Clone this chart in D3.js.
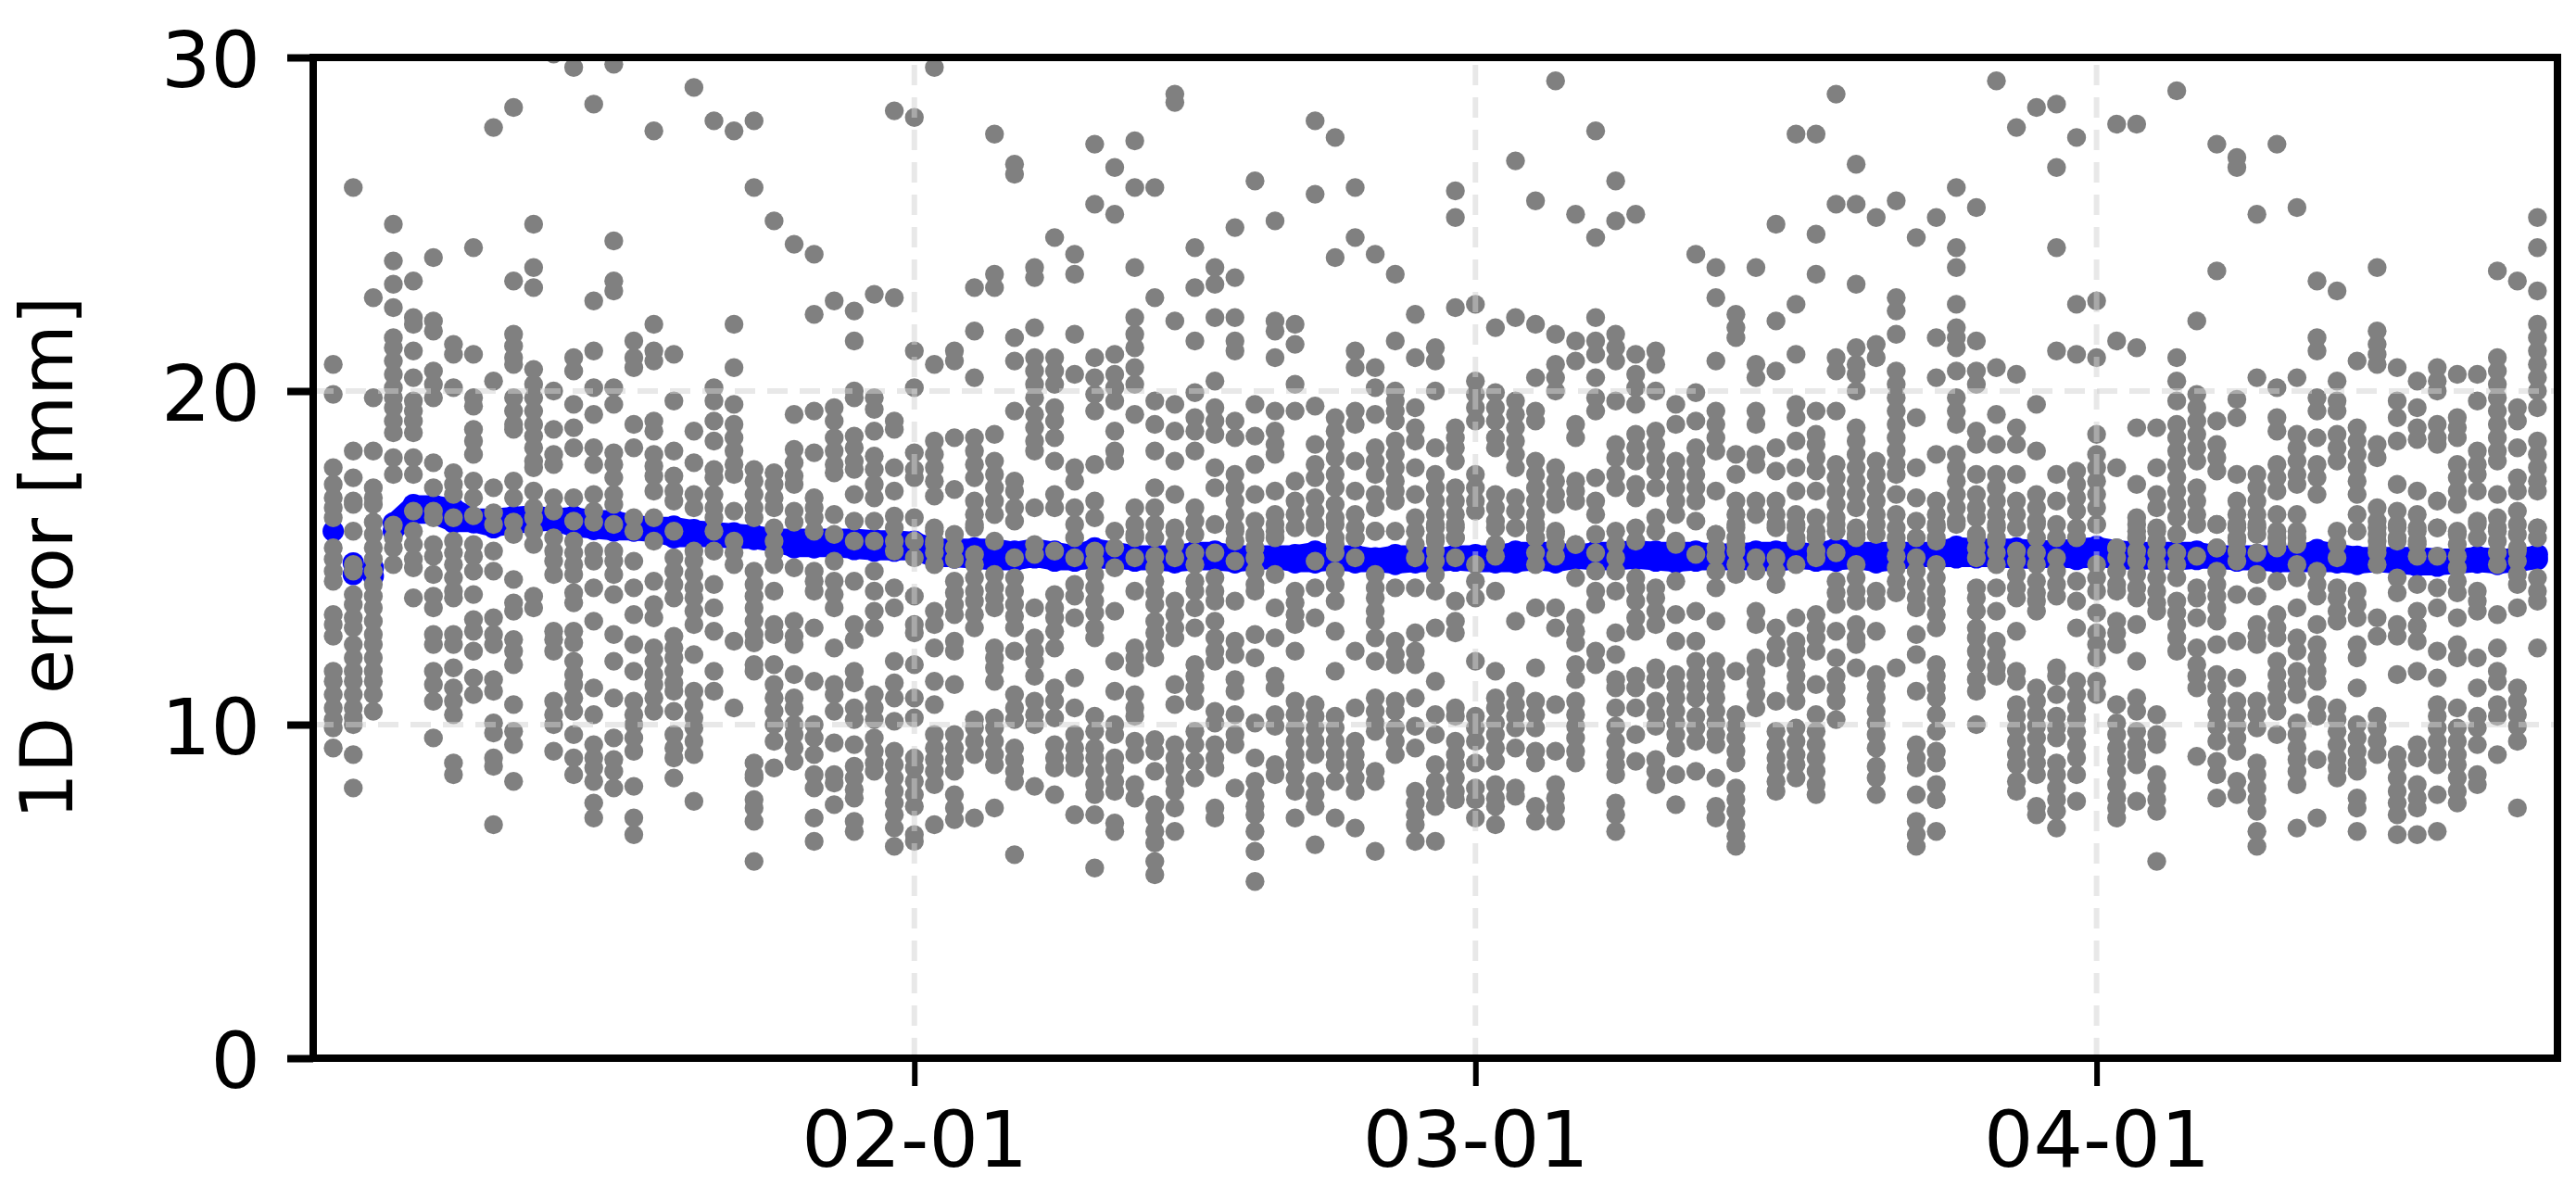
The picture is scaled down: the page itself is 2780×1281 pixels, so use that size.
<!DOCTYPE html>
<html>
<head>
<meta charset="utf-8">
<script src="https://cdn.jsdelivr.net/npm/d3@7"></script>
<style>
html,body{margin:0;padding:0;background:#fff;}
svg{display:block;filter:blur(0.7px);}
text{font-family:"DejaVu Sans",sans-serif;fill:#000;}
</style>
</head>
<body>
<svg id="chart" width="2780" height="1281"></svg>
<script>
const firstDay = "2021-01-03";
const xDomain = ["2021-01-02", "2021-04-24"];
const xTickDates = ["2021-02-01", "2021-03-01", "2021-04-01"];
const yTicks = [0, 10, 20, 30];
const yLabel = "1D error [mm]";

// one list per day: the grey single-epoch errors (mm)
const dailyErrors = [
[20.8,19.9,17.7,17.2,16.8,16.5,16.2,15.3,14.96,14.6,14.3,13.3,13,12.65,11.6,11.3,10.9,10.5,10.15,9.9,9.3],
[26.1,18.2,17.4,16.7,16.6,15.8,14.8,14.6,13.9,13.6,13.2,12.9,12.4,12,11.6,11.3,10.9,10.5,10.2,10,9.1,8.1],
[22.8,19.8,18.2,17.1,16.8,16.6,16.07,15.7,15.3,14.96,14.6,14.2,13.85,13.5,13.1,12.7,12.4,12,11.6,11.3,10.9,10.4],
[25,23.9,23.2,22.5,21.6,21.3,20.9,20.5,20.1,19.8,19.5,19.1,18.75,18,17.5,15.98,15.6,15.3,14.8],
[23.3,22.2,22,21.2,20.4,19.7,19.4,19.1,18.75,18,17.5,16.4,15.8,15.4,14.96,14.7,13.8],
[24,22.1,21.8,20.6,20.2,19.8,17.85,17.1,16.4,16.2,15.4,15.05,14.5,13.85,13.5,12.7,12.4,11.6,11.2,10.7,9.6],
[21.4,21.1,20.1,17.55,17.2,16.9,16.2,15.5,15.15,14.8,14.4,14,13.8,12.7,12.4,11.7,11.1,10.7,10.3,8.85,8.5],
[24.3,21.1,19.8,19.55,18.85,18.5,18.1,17.3,16.8,16.26,15.4,15.05,14.6,13.9,13.15,12.8,12.2,11.4,10.9],
[27.9,20.3,17.1,16.35,16,15.2,14.6,13.2,12.7,12.4,11.35,11,10.05,9.75,9,8.75,7],
[28.5,23.3,21.7,21.35,21,20.8,19.8,19.4,19,18.85,17.3,16.8,16.07,15.7,14.35,13.65,13.4,12.55,12.2,11.8,10.6,9.8,9.4,8.3],
[25,23.7,23.1,20.65,20.2,19.8,19.4,19,18.65,18.3,17.9,17.7,17,16.5,16.2,15.8,15.4,13.85,13.5],
[30.1,20,18.85,18.1,17.8,16.8,16.4,15.6,15.2,14.9,14.5,12.8,12.55,12.2,10.7,10.3,10,9.2],
[29.7,21,20.6,19.6,18.9,18.3,16.8,16.1,15.5,15.15,14.8,14.5,13.95,13.65,12.8,12.45,11.9,11.5,11.2,10.8,10.4,9.7,9,8.5],
[28.6,22.7,21.2,20.1,19.3,18.3,17.8,16.9,16.4,16.07,15.2,14.9,14.1,13.1,11.1,10.3,9.4,9,8.7,8.3,7.65,7.2],
[29.8,24.5,23.3,23,20.1,19.6,18.15,17.8,17.4,16.9,16.6,16,15.2,14.9,14.5,13.9,12.7,11.9,10.8,9.6,8.95,8.6,8.1],
[21.5,21,20.7,19,18.3,16.2,15.8,14.9,14.1,13.3,12.4,11.6,10.7,10.3,10,9.6,9.2,8.15,7.2,6.7],
[27.8,22,21.2,20.9,19.1,18.8,18.1,17.75,17.45,17,16.2,15.5,14.3,13.6,13.2,12.3,11.9,11.5,11.2,10.8,10.4],
[21.1,19.7,18.2,17.45,17,16.7,15.8,15,14.6,14.2,13.8,12.65,12.3,12,11.6,11.25,11,10.4,9.7,9.3,9,8.4],
[29.1,18.8,17.85,16.9,16.5,15.2,14.9,14.5,14.1,13.8,13.4,13,12.1,11,10.6,10.2,9.9,9.5,9.1,7.7],
[28.1,20.1,19.7,19.1,18.5,17.65,17.4,16.9,16.5,16.2,15.8,15.2,14.2,13.5,12.8,11.6,11],
[27.8,22,20.7,19.6,19,18.6,18.2,17.8,17.5,16.4,15.5,15.15,14.8,12.5,10.5],
[28.1,26.1,17.65,17.3,16.9,16.5,16.2,14.6,14.2,13.85,13.5,13.1,12.7,12.45,11.8,11.6,8.85,8.5,8.4,7.75,7.5,7.1,5.9],
[25.1,17.55,17.2,16.8,16.5,15.9,15.5,15.15,14.8,14,13,12.7,11.8,11.2,10.8,10.4,10,9.5,8.7],
[24.4,19.3,18.25,17.85,17.45,17.2,16.4,16.07,14.7,13.1,12.65,12.4,11.5,10.8,10.5,10,9.7,9.3,8.9],
[24.1,22.3,19.4,18.15,16.8,16.5,16.2,15.8,14.6,14.3,14,12.9,11.3,10,9.6,9.1,8.5,8.1,7.2,6.5],
[22.7,19.5,19.1,18.6,18.2,17.8,17.55,16.3,15.7,14.9,14.3,13.9,13.5,12.3,11.2,10.9,10.4,9.45,8.5,8.25,7.6],
[22.4,21.5,20,19.8,18.65,18.3,17.9,17.65,16.9,16.1,15.5,14.3,13,12.55,11.6,11.25,10.5,10.15,9.4,8.75,8.4,8.05,7.8,7.1,6.8],
[22.9,19.8,19.45,18.8,18.05,17.65,17.2,16.8,16.1,15.5,14.6,14,13.4,12.9,10.9,10.5,10.15,9.6,9.2,8.85,8.6],
[28.4,22.8,19.1,18.85,17.7,17,16.25,15.9,15.5,15.2,14.1,13.5,11.9,11.25,10.8,10.1,9.2,8.8,8.4,8,7.65,7.3,6.9,6.35],
[28.2,21.2,20.1,18.15,17.65,17.4,16.2,15.5,15,13.85,13,12.75,11.8,10.8,10.2,9,8.7,8.3,7.9,7.55,6.7,6.5],
[29.7,20.8,18.5,18.1,17.7,17.3,16.85,15.8,15.4,15.9,15.5,15.15,14.8,13.4,13,12.3,11.3,10.6,9.7,9.3,8.95,8.6,8.2,7],
[21.2,20.9,18.6,17.05,15.7,15.3,14.95,14.3,13.95,13.6,13.3,12.5,12.2,11.2,9.7,9.3,8.95,8.6,7.9,7.5,7.15],
[23.1,21.8,20.4,18.6,18.2,17.8,17.4,16.7,16.3,15.9,16,15.1,14.8,14.4,14,13.7,13.3,12.9,10.15,9.9,9.5,9.1,7.2],
[27.7,23.5,23.1,18.7,17.9,17.5,17.1,16.7,16.3,15.5,14.5,14.1,13.8,13.5,12.3,12,11.7,11.3,10.2,9.9,9.5,9.1,8.8,7.5],
[26.8,26.5,21.6,20.9,19.4,17.3,17,16.5,16.1,15,14.4,14,13.6,13.25,12.9,12.2,10.9,10.5,10.15,9.3,8.95,8.6,8.3,6.1],
[23.7,23.4,21.9,21,20.6,20.2,19.8,19.3,18.9,18.5,18.2,16.5,15.4,15.1,13.5,12.6,12.2,11.9,11.45,10.7,10.3,10,8.15],
[24.6,21,20.6,20.2,19.5,19.1,18.6,17.9,16.9,16.5,15.2,13.9,13.5,13.2,12.8,12.3,11.1,10.7,10.2,9.4,9,8.7,7.9],
[24.1,23.5,21.7,20.5,17.7,17.3,16.5,16,15.6,15,14.2,13.85,13.2,11.4,10.5,9.7,9.3,9,8.7,7.3],
[27.4,25.6,21,20.4,19.9,19.4,17.8,16.7,16.2,15.2,14.9,14.5,14.1,13.7,13.35,12.9,12.6,10.25,9.8,9.3,9,8.6,8.2,7.9,7.3,5.7],
[26.7,25.3,21.1,20.5,20.1,19.7,18.8,18.2,17.9,15.8,15.3,14.7,13.4,11.9,11,10,9.7,9,8.7,8.3,8,7.05,6.8],
[27.5,26.1,23.7,22.2,21.7,21.3,20.7,20.2,19.3,16.5,16,15.6,15.7,15,14,12.3,12,11.7,10.9,10.5,10.25,9.5,9.1,8.2,7.8],
[26.1,22.8,19.7,19,18.2,17.1,16.5,16,15.6,15.05,14.7,14.3,13.95,13.6,13.1,12.75,12.4,12,9.55,9.2,8.6,7.6,7.2,6.8,6.45,5.9,5.5],
[28.9,28.65,22.1,19.6,18.8,17.9,16.9,15.9,15.4,15.8,15,13.7,13.3,12.9,12.6,11.2,10.6,9.4,9,8.7,8.3,8,7.5,6.8],
[24.3,23.1,21.5,19.95,19.2,18.8,18.2,16.5,16.1,15.7,15.15,14.8,14.3,14,13.5,12.9,11.8,11.45,11.1,10.7,9.8,9.4,8.9,8.4],
[23.7,23.2,22.2,20.3,19.5,19.1,18.7,17.7,17.1,16,15.15,14.4,14,13.7,13.1,12.6,12.2,11.9,10.4,10.05,9.4,9,8.7,7.5,7.2],
[24.9,23.4,22.2,21.5,21.2,19.1,18.6,17.5,17.1,16.7,16.3,15.8,15.9,15.5,14.9,13.7,12.5,12.1,11.35,11,10.3,9.7,9.4,8.1],
[26.3,19.6,18.65,17.8,16.9,16.1,15.6,15.7,15.3,15,14.6,14.2,14,12.7,12,10.05,9,8.3,7.9,7.55,7.3,6.8,6.2,5.3],
[25.1,22.1,21.8,21,19.4,18.8,18.4,18.1,17,16.3,15.8,16,15.6,14.5,13.5,12.6,11.45,11.1,10.3,9.95,8.8,8.5],
[22,21.4,20.2,19.4,17.3,16.7,16.3,15.9,14,13.65,13.3,13,12.2,10.7,10.3,9.9,9.5,9.1,8.8,8.4,8,7.2],
[28.1,25.9,19.55,18.4,17.8,17.4,16.8,16.4,16,15.9,14.9,14.1,13.2,10.6,10.25,9.9,9.5,9.1,8.3,7.9,7.55,6.4],
[27.6,24,19.2,18.8,18.4,18,17.5,17.1,16.6,16.2,15.4,16,15.6,15.15,14.6,14.2,13.7,12.8,11.6,10.25,9.9,9.5,9.1,8.8,8.3,7.2],
[26.1,24.6,21.2,20.7,19.4,19,17.9,17,16.3,15.6,15.9,15.6,15,12.2,10.5,9.5,9.1,8.8,8.4,8,6.9],
[24.1,20.7,20.1,19.3,18.3,17.9,17.5,16.9,16.5,15.8,15.8,14.5,14.1,13.8,13.4,13.1,12.6,11.9,10.8,10.4,10.05,9.8,8.6,8.3,6.2],
[23.5,21.5,20,19.7,19.4,19.1,18.5,18.1,17.7,17.3,17,16.7,15.8,14.1,12.5,12.1,11.8,10.7,10.4,9.9,9.5,9.1],
[22.3,21,19.5,18.9,18.5,17.7,16.9,16.2,15.8,15.4,15,14.1,12.75,12.2,11.8,10.8,9.95,9.3,8,7.65,7.3,7,6.5],
[21.3,20.9,20,18.3,17.5,17.1,16.7,16.3,15.9,15.5,16,15.6,15.2,14.9,14.5,14,12.9,11.3,10.3,9.7,8.8,8.3,7.9,7.55,6.5],
[26,25.2,22.5,18.9,18.6,18.3,17.9,17.1,16.7,16.3,15.9,15.6,16,15.6,15,13.7,13.1,12.75,10.5,10.25,9.5,9.1,8.8,8.4,8,7.75],
[22.6,20.3,19.9,19.5,19.1,17.5,17.1,16.7,16.4,14.8,14.3,13.8,11.9,10.25,9.9,9.5,8.85,8.1,7.75,7.2],
[21.9,19.95,19.5,19.1,18.6,18.3,16.9,16.5,16.1,15.4,15.9,15.4,15.05,14,11.6,10.8,10.5,10.05,9.7,9.3,8.9,8.2,7.8,7.55,7],
[26.9,22.2,19.7,19.3,18.9,18.5,18.1,17.7,16.8,16.4,15.9,15.9,13.1,11,10.6,10.25,9.9,9.3,8.1,7.85],
[25.7,22,20.4,19.4,19.1,17.9,17.5,17.1,16.7,16.3,15.9,15.6,16,15.6,15.15,14.8,13.5,11.7,10.7,10.3,9.9,9.2,8.85,7.55,7.1],
[29.3,21.7,20.8,20.4,20,17.7,17.3,16.9,16.6,15.7,15.8,15.4,15.05,13.5,12.9,10.6,9.2,8.2,7.8,7.5,7.1],
[25.3,21.5,20.9,19,18.6,17.3,17,16.7,15.4,15.4,14.4,13.2,12.8,12.45,11.8,11.35,10.7,10.3,9.95,9.6,9.2,8.85],
[27.8,24.6,22.2,21.5,21.1,20.4,19.8,19.4,17.4,16.7,16.3,15.7,15.15,14.6,14,13.6,12.2,11.8],
[26.3,25.1,21.7,21.3,20.9,19.7,18.4,18,17.5,17.1,15.8,15.4,15,14.6,14,12.75,12.1,11.35,11.1,10.5,9.95,9.5,9.1,8.8,8.5,7.65,7.3,6.8],
[25.3,21.1,20.5,20.1,19.6,18.7,18.3,17.9,17.2,16.8,15.9,15.5,14.4,14.1,13.7,13.2,12.8,11.45,11.1,10.5,9.7,8.9],
[21.2,20.8,20,18.8,18.4,18,17.6,17.1,16.2,15.8,14.1,13.8,13.4,13,11.7,11.35,10.7,10.3,9.95,8.95,8.6,8.2],
[19.6,19,17.9,17.5,17.1,16.7,16.3,15.4,15.5,14.3,13.3,12.5,11.5,11.15,10.8,10.4,10.05,9.7,9.3,8.5,7.6],
[24.1,19.95,19.1,18.3,17.9,17.5,17.1,16.7,16.1,15.1,13.4,12.5,11.9,11.5,11.15,10.8,10.25,9.9,9.5,8.6],
[23.7,22.8,20.9,19.4,19,18.6,18.2,17,15.7,15.7,15.3,15.05,14.6,14.1,13.1,11.9,11.5,11.15,10.8,10.4,10.05,9.7,9.4,8.4,7.55,7.2],
[22.3,21.9,21.6,18.1,17.5,16.7,16.3,15.9,15.4,16,15.6,15.2,14.8,14.5,11.6,10.3,9.95,9.6,9.2,8.85,8.1,7.75,7.4,7,6.65,6.35],
[23.7,20.8,20.4,19.4,19,18.1,17.8,16.7,16.3,15,14.6,13.4,13,12,11.6,11.25,10.9,10.5],
[25,22.1,20.6,18.3,17.6,16.7,16.3,15.9,16,15,14.6,14.2,12.9,12.4,12,10.7,9.8,9.4,9,8.7,8.3,8],
[27.7,22.6,21.1,19.6,19.2,18.5,17.7,17,16.3,15.9,15.5,16,15.6,14.8,13.2,12.5,12.2,11.8,11.45,11.1,10.7,9.9,9.5,9.1,8.8,8.4],
[27.7,24.7,23.5,19.4,18.7,18.4,18,17.6,17,16.2,15.8,15.6,15.2,15,13.3,12.9,12.6,12.2,11.2,10.3,9.8,9.4,9,8.6,8.2,7.9],
[28.9,25.6,21,20.6,19.4,17.8,17.4,17,16.6,16.2,15.8,16,15.15,14.3,13.95,13.6,12.8,12,11.45,11.1,10.7,10.15],
[26.8,25.6,23.2,21.3,20.8,20.5,20,18.9,18.5,18.1,17.7,17.3,16.9,16.5,15.7,15.9,15.6,14.8,14.4,14,13.7,13,12.6,12.4,11.7],
[25.2,21.4,21,17.9,17.5,17.1,16.7,16.3,15.7,16,14,13.7,12.8,11.5,11.15,10.8,10.4,10.05,9.7,9.3,8.75,8.4,7.9],
[25.7,22.8,22.4,21.7,20.6,20.2,19.8,19.4,19,18.6,18.2,17.8,17.5,16.9,16.3,15.6,15.9,15.4,15.05,14.7,14.3,13.95,11.7],
[24.6,19.2,17.7,16.8,16.1,15.6,15,14.6,14.2,13.8,13.5,12.7,12.1,11,9.4,9,8.7,7.9,7.1,6.7,6.35],
[25.2,21.6,20.4,18.1,16.7,16.3,15.9,15.5,16,15.6,14.8,14.4,14,13.7,13.3,12.9,11.8,11.45,11.1,10.8,10.3,9.8,9.2,8.85,8.2,7.75,6.8],
[26.1,24.3,23.7,22.6,21.9,21.6,21.3,20.6,19.8,19.4,19,18.1,17.7,17.3,16.9,16.5,16.1,16],
[25.5,21.5,20.6,20.2,18.8,18.4,17.5,16.9,16.5,16.2,15.6,15.7,15.3,15,14.1,13.8,13.4,12.9,12.6,12.2,11.8,11.35,11,10],
[29.3,20.7,19.3,18.4,17.5,17.1,16.7,16.3,15.9,15.5,16,15.6,15.15,14.8,14.1,13.4,12.5,12.1,11.7,11.45],
[27.9,20.5,18.9,18.4,17.5,16.7,16.3,15.9,15.2,14.9,14.5,14.1,13.8,12.8,11.6,11.3,10.6,10.25,9.9,9.5,9.1,8.8,8.3,8],
[28.5,19.6,18.2,16.9,16.5,16.1,16,15.6,15.15,14.8,14.3,13.95,13.7,13.4,11.1,10.7,10.3,9.95,9.6,9.2,8.85,8.5,7.55,7.3],
[28.6,26.7,24.3,21.2,17.5,16.7,16,15.6,15,14.6,14.2,13.85,11.7,11.45,10.9,10.25,9.9,9.6,8.85,8.5,8.1,7.75,7.4,6.9],
[27.6,22.6,21.1,17.6,17.2,16.8,16.4,15.6,15.9,14.3,13.7,12.9,11.3,10.9,10.5,10.15,9.8,9.4,9,8.5,7.7],
[22.7,21,18.7,18.1,17.7,17.3,16.9,16.5,16,16,14.8,14.4,14,13.35,12.75,12.4,12,11.3,10.9],
[28,21.5,17.7,15.3,15.3,15,14.6,14.2,14,13.1,12.75,12.4,10.6,10.05,9.7,9.3,8.95,8.6,8.2,7.8,7.5,7.2],
[28,21.3,18.9,17.2,16.2,15.8,16,15.6,15.2,14.9,14.5,14.1,13.8,13,11.9,10.8,10.4,9.8,9.4,9.1,8.8,7.7],
[18.9,17.7,16.9,16.5,15.8,15.9,15.5,15.15,14.8,14.4,14,13.65,13.4,10.3,9.7,9.4,8.5,8.1,7.75,7.4,5.9],
[29,21,20.3,19.7,19,18.6,18.2,17.8,17.4,17,16.6,16.2,15.7,15.15,14.8,14.4,13.7,13.35,13,12.6,12.2],
[22.1,19.9,19.5,19.1,18.7,18.3,17.9,17.1,16.7,16.3,16,15.05,14.1,13.8,13.2,12.3,11.8,11.45,11.1,9.05],
[27.4,23.6,19.1,18.4,18,17.6,16,15.3,16,15.3,14.6,14.2,13.85,13.5,13.1,12.4,11.5,11.15,10.7,10.3,9.95,9.5,8.9,8.5,7.8],
[27,26.7,19.75,19.2,17.5,16.7,16.3,15.9,15.5,16,15.6,15.2,14.9,13.9,12.5,11.4,10.7,10.3,9.95,9.6,9.2,8.3,7.9],
[25.3,20.4,17.5,17.1,16.7,16.3,15.9,16,15.7,15.15,14.5,13.85,13,12.65,12.4,10.7,10.3,9.9,8.85,8.5,8.1,7.75,7.4,6.8,6.35],
[27.4,20.1,19.2,18.8,17.8,17.4,17,16.3,15.6,15.3,15.8,15.4,14.3,13.3,12.9,12.6,11.9,11.5,11.15,10.8,10.4,9.7],
[25.5,20.4,18.7,18.3,17.9,17.5,17.2,16.3,15.6,15.8,15.4,14.8,14.4,13.5,12.6,12.2,11.6,11.25,10.9,10.05,9.7,9.3,8.95,8.6,8.2,6.9],
[23.3,21.6,21.2,19.8,19.4,18.6,17.8,17.4,16.9,14.6,14.2,13.85,13,12.4,12,11.6,11.3,10.6,10.25,8.95,7.2],
[23,20.3,19.7,19.4,18.7,18.3,17.9,15.8,15.4,15,14.1,13.8,13.4,13.1,10.5,10.15,9.8,9.4,9,8.7,8.4],
[20.9,18.9,18.5,18.1,17.7,17.3,16.9,16.3,15.8,14,13.6,13.2,12.4,12,11.1,10,9.6,9.2,8.85,8.6,7.8,7.5,6.8],
[23.7,21.8,21.4,21.1,20.8,18.4,18,16.5,16.1,15.7,15.3,15.9,15.5,15.15,14.8,13.2,12.65,10.25,9.9,9.5,9.1],
[20.7,19.7,19.2,18.5,17.2,16.4,16,15.6,15.9,15.5,14.4,13.95,13,12.65,11.5,9.1,8.8,8.4,8,7.65,7.3,6.7],
[20.3,19.5,18.9,18.55,17,16.3,15.9,15.5,15.8,15.4,15.05,14.2,13.4,12.95,12.5,11.6,9.4,9,8.2,7.8,7.5,6.7],
[20.7,20.3,20,19,18.6,18.4,16.7,15.9,15.9,15.05,14.1,13.5,12.2,11.4,10.6,10.25,9.9,9.5,9.1,8.8,7.9,6.8],
[20.5,19.2,18.9,18.6,17.8,17.4,17,16.6,15.7,15.8,15.4,15.05,14.7,14.3,13.95,13.2,12.4,12,10.5,9.9,9.5,9.1,8.8,8.4,8,7.65],
[20.5,19.7,18.2,17.8,17.5,17,16.1,16,15.6,14,13.7,13.4,12,11.1,10.25,9.9,9.4,8.5,8.2],
[23.6,21,20.6,20.2,19.8,19.4,19,18.6,18.2,17.9,16.9,16.2,15.8,15.9,15.5,15.15,14.8,13.3,12.3,11.6,11.3,10.6,10.25,9.1],
[23.3,19.5,19.1,18.3,17.4,17,16.4,15.7,15.3,16,15.2,14.9,14.5,14.2,13.5,11.1,10.7,10.3,9.95,9.5,7.5],
[25.2,24.3,23,22,21.6,21.2,20.8,20.4,20,19.5,18.5,18.1,17.7,17.3,17,15.9,15.6,15.9,14.4,14,13.7,12.3]
];

// two blue values per day: upper and lower edge of the daily mean
const dailyMeans = [
[15.8],[14.85,14.5],[14.7,14.45],[16.05,15.8],[16.6,16.3],[16.6,16.3],[16.5,16.05],[16.2,16.05],[16.2,15.9],[16.25,16],
[16.3,16.05],[16.2,16.1],[16.25,15.9],[16.15,15.85],[16.15,15.8],[16,15.8],[15.95,15.75],[15.95,15.6],[15.85,15.6],[15.8,15.6],
[15.75,15.55],[15.7,15.55],[15.6,15.45],[15.6,15.3],[15.6,15.3],[15.6,15.3],[15.6,15.25],[15.55,15.2],[15.55,15.2],[15.5,15.2],
[15.3,15],[15.3,15],[15.3,14.95],[15.3,14.9],[15.2,14.9],[15.3,15],[15.2,14.9],[15.1,14.9],[15.3,14.95],[15.2,14.95],
[15.1,14.9],[15.1,14.9],[15.1,14.85],[15.2,14.9],[15.2,14.9],[15.1,14.85],[15.1,14.9],[15.1,14.95],[15.1,14.85],[15.2,14.85],
[15.1,14.9],[15.1,14.85],[15,14.85],[15.1,14.8],[15.1,14.85],[15,14.85],[15.1,14.9],[15.1,14.85],[15.1,14.85],[15.2,14.85],
[15.2,14.9],[15.2,14.85],[15.1,14.95],[15.2,14.9],[15.2,14.9],[15.25,14.95],[15.2,14.9],[15.2,14.85],[15.2,14.9],[15.15,14.9],
[15.15,14.9],[15.2,14.9],[15.2,14.85],[15.2,14.95],[15.15,14.9],[15.3,14.9],[15.2,14.95],[15.2,14.85],[15.2,14.9],[15.2,15],
[15.2,15],[15.35,15],[15.3,15],[15.3,15],[15.3,14.95],[15.25,14.95],[15.25,15],[15.3,14.95],[15.35,15],[15.25,14.95],
[15.2,14.9],[15.2,14.95],[15.2,14.9],[15.2,14.95],[15.1,14.95],[15.1,14.9],[15.1,14.9],[15.1,14.85],[15.1,14.85],[15.25,14.85],
[15.15,14.85],[15.05,14.8],[15.05,14.85],[15.05,14.8],[15.05,14.75],[15,14.75],[15,14.8],[15.05,14.85],[15,14.8],[15,14.85],
[15.1,14.95]
];

const parse = d3.utcParse("%Y-%m-%d");
const start = parse(firstDay);
const dayOf = i => d3.utcDay.offset(start, i);

const plot = {left: 338, right: 2760, top: 62, bottom: 1142};
const tickFont = 84;
const labelFont = 78.5;
const dotR = 10.2;
const meanR = 11.5;

const x = d3.scaleUtc().domain(xDomain.map(parse)).range([plot.left, plot.right]);
const y = d3.scaleLinear().domain([0, 30]).range([plot.bottom, plot.top]);

const svg = d3.select("#chart");
svg.append("defs").append("clipPath").attr("id", "plot-clip").append("rect")
  .attr("x", plot.left).attr("y", plot.top)
  .attr("width", plot.right - plot.left).attr("height", plot.bottom - plot.top);

const marks = svg.append("g").attr("clip-path", "url(#plot-clip)");

const flat = rows => rows.flatMap((vals, i) => vals.map(v => ({date: dayOf(i), v})));

// solid band joining the daily means, from the fourth day on
const band = d3.area()
  .defined((d, i) => i >= 3)
  .x((d, i) => x(dayOf(i)))
  .y0(d => y(d3.min(d)))
  .y1(d => y(d3.max(d)));
marks.append("path").attr("d", band(dailyMeans))
  .attr("fill", "#0000ff").attr("stroke", "#0000ff").attr("stroke-width", 20).attr("stroke-linejoin", "round");

marks.append("g").selectAll("circle").data(flat(dailyMeans)).join("circle")
  .attr("cx", d => x(d.date)).attr("cy", d => y(d.v)).attr("r", meanR).attr("fill", "#0000ff");

marks.append("g").selectAll("circle").data(flat(dailyErrors)).join("circle")
  .attr("cx", d => x(d.date)).attr("cy", d => y(d.v)).attr("r", dotR).attr("fill", "#808080");

const gridStyle = s => s.attr("stroke", "rgba(209,209,209,0.5)").attr("stroke-width", 6).attr("stroke-dasharray", "22,13");
const grid = svg.append("g");
grid.selectAll("line.h").data(yTicks.slice(1, 3)).join("line").attr("class", "h")
  .attr("x1", plot.left).attr("x2", plot.right).attr("y1", d => y(d)).attr("y2", d => y(d)).call(gridStyle);
grid.selectAll("line.v").data(xTickDates.map(parse)).join("line").attr("class", "v")
  .attr("y1", plot.bottom).attr("y2", plot.top).attr("x1", d => x(d)).attr("x2", d => x(d)).call(gridStyle);

const xAxis = d3.axisBottom(x).tickValues(xTickDates.map(parse)).tickFormat(d3.utcFormat("%m-%d"))
  .tickSize(30).tickSizeOuter(0).tickPadding(27);
const yAxis = d3.axisLeft(y).tickValues(yTicks).tickFormat(d3.format("d"))
  .tickSize(28).tickSizeOuter(0).tickPadding(29);

const gx = svg.append("g").attr("transform", `translate(0,${plot.bottom})`).call(xAxis);
const gy = svg.append("g").attr("transform", `translate(${plot.left},0)`).call(yAxis);
gx.select(".domain").remove();
gy.select(".domain").remove();
gx.selectAll(".tick line").attr("stroke", "#000").attr("stroke-width", 6);
gy.selectAll(".tick line").attr("stroke", "#000").attr("stroke-width", 8);
gx.selectAll("text").attr("font-size", tickFont).attr("font-family", '"DejaVu Sans"');
gy.selectAll("text").attr("font-size", tickFont).attr("font-family", '"DejaVu Sans"').attr("dy", "0.38em");

svg.append("rect").attr("x", plot.left).attr("y", plot.top)
  .attr("width", plot.right - plot.left).attr("height", plot.bottom - plot.top)
  .attr("fill", "none").attr("stroke", "#000").attr("stroke-width", 8);

svg.append("text").attr("transform", "translate(78,602) rotate(-90)")
  .attr("text-anchor", "middle").attr("font-size", labelFont).text(yLabel);
</script>
</body>
</html>
